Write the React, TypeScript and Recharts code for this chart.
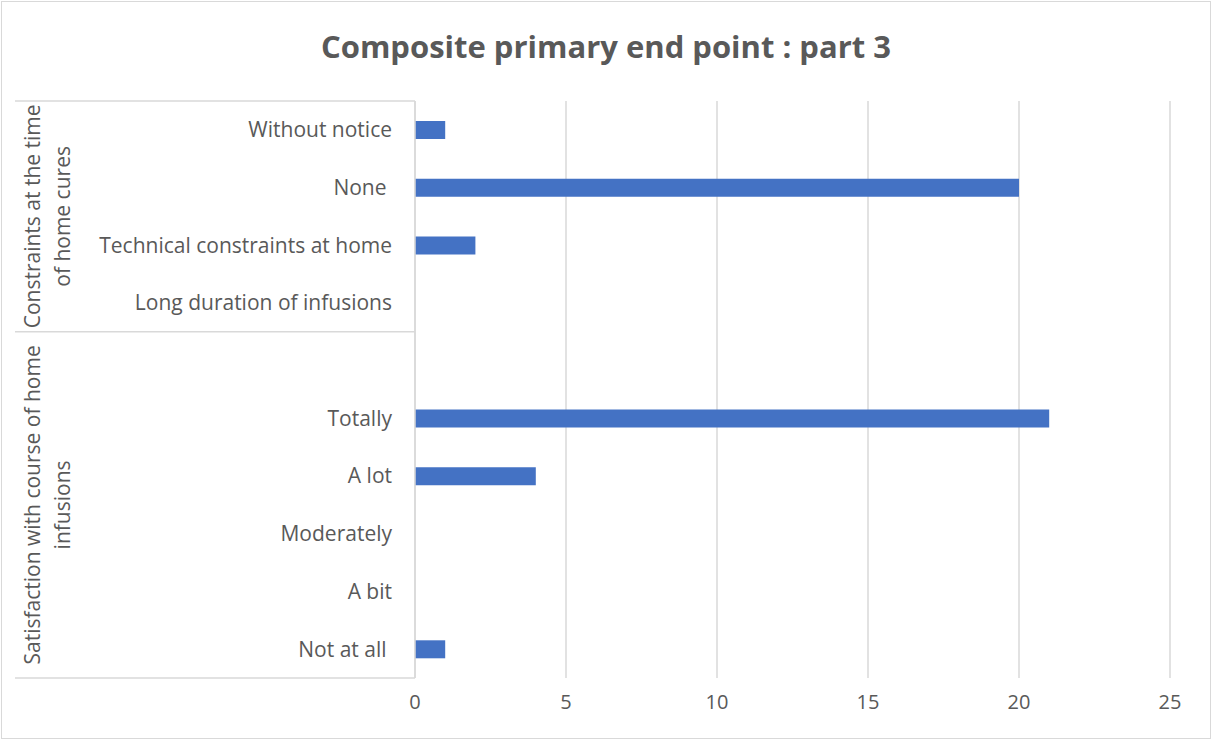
import React from 'react';
import { BarChart, Bar, XAxis, YAxis, CartesianGrid } from 'recharts';

// categories top to bottom, grouped; the blank one is an empty slot in the second group
const CATEGORIES = [
  'Without notice',
  'None ',
  'Technical constraints at home',
  'Long duration of infusions',
  ' ',
  'Totally',
  'A lot',
  'Moderately',
  'A bit',
  'Not at all ',
];
const VALUES = [1, 20, 2, 0, 0, 21, 4, 0, 0, 1];

const GROUP_LABELS = [
  ['Constraints at the time', 'of home cures'],
  ['Satisfaction with course of home', 'infusions'],
];
const GROUP_SIZES = [4, 6];

const X_TICKS = [0, 5, 10, 15, 20, 25];

const data = CATEGORIES.map((c, i) => ({ category: c, value: VALUES[i] }));

const FONT = '"Open Sans", sans-serif';
const TEXT = '#595959';
const LINE = '#d9d9d9';
const PLOT_LEFT = 415;
const PLOT_TOP = 101;
const PLOT_BOTTOM = 678;
const BAND = (PLOT_BOTTOM - PLOT_TOP) / CATEGORIES.length;
const FS = 21;

if (typeof document !== 'undefined') document.body.style.margin = '0';

function groupStarts() {
  const starts: number[] = [];
  let acc = 0;
  for (const s of GROUP_SIZES) {
    starts.push(acc);
    acc += s;
  }
  return starts;
}

function CategoryTick(props: any) {
  const { y, payload, index } = props;
  const label = String(payload.value);
  const starts = groupStarts();
  const g = starts.indexOf(index);
  const top = y - BAND / 2;
  return (
    <g>
      <text
        x={PLOT_LEFT - 23}
        y={y}
        dy="0.35em"
        textAnchor="end"
        fill={TEXT}
        fontSize={FS}
        fontFamily={FONT}
        style={{ whiteSpace: 'pre' }}
      >
        {label.trim() ? label : ''}
      </text>
      {g >= 0 && (
        <g>
          <line x1={15} x2={PLOT_LEFT} y1={top} y2={top} stroke={LINE} strokeWidth={1.5} />
          {(() => {
            const cy = top + (GROUP_SIZES[g] * BAND) / 2;
            return GROUP_LABELS[g].map((t, k) => {
              const cx = 33 + k * 30;
              return (
                <text
                  key={k}
                  x={cx}
                  y={cy}
                  dy="0.35em"
                  textAnchor="middle"
                  transform={`rotate(-90, ${cx}, ${cy})`}
                  fill={TEXT}
                  fontSize={FS}
                  fontFamily={FONT}
                >
                  {t}
                </text>
              );
            });
          })()}
        </g>
      )}
      {index === CATEGORIES.length - 1 && (
        <line
          x1={15}
          x2={PLOT_LEFT}
          y1={y + BAND / 2}
          y2={y + BAND / 2}
          stroke={LINE}
          strokeWidth={1.5}
        />
      )}
    </g>
  );
}

export default function App() {
  return (
    <div style={{ position: 'relative', width: 1212, height: 740, background: '#fff' }}>
      <div
        style={{
          position: 'absolute',
          left: 1,
          top: 1,
          width: 1208,
          height: 736,
          border: `1.5px solid ${LINE}`,
        }}
      />
      <div
        style={{
          position: 'absolute',
          left: 0,
          top: 25,
          width: 1212,
          textAlign: 'center',
          fontFamily: FONT,
          fontWeight: 700,
          fontSize: 31,
          color: TEXT,
        }}
      >
        Composite primary end point : part 3
      </div>
      <div style={{ position: 'absolute', left: 0, top: 0 }}>
        <BarChart
          width={1212}
          height={740}
          data={data}
          layout="vertical"
          margin={{ top: PLOT_TOP, right: 42, bottom: 22, left: 0 }}
        >
          <CartesianGrid horizontal={false} stroke={LINE} strokeWidth={1.5} />
          <XAxis
            type="number"
            domain={[0, 25]}
            ticks={X_TICKS}
            axisLine={false}
            tickLine={false}
            height={40}
            tickMargin={11}
            tick={{ fill: TEXT, fontSize: 20, fontFamily: FONT }}
          />
          <YAxis
            type="category"
            dataKey="category"
            width={PLOT_LEFT}
            interval={0}
            tickLine={false}
            axisLine={{ stroke: LINE, strokeWidth: 1.5 }}
            tick={<CategoryTick />}
          />
          <Bar dataKey="value" fill="#4472c4" barSize={18} isAnimationActive={false} />
        </BarChart>
      </div>
    </div>
  );
}
